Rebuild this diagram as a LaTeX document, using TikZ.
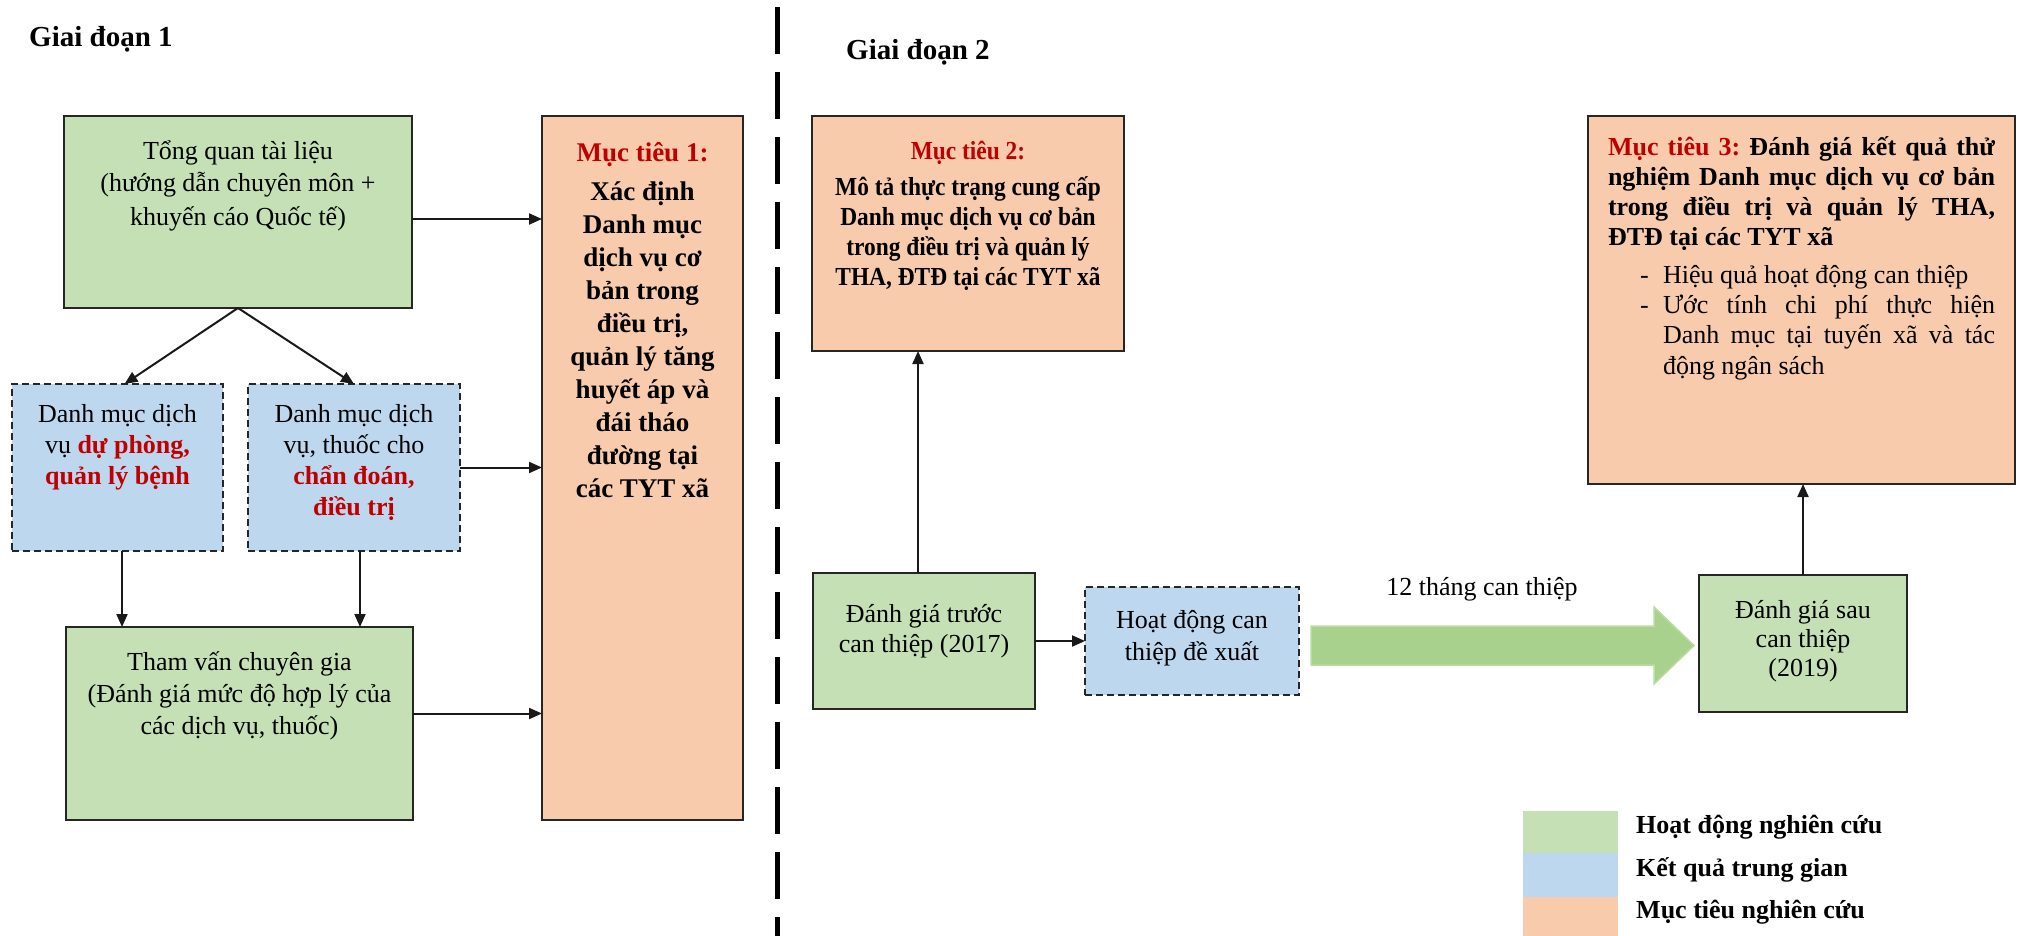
\documentclass[tikz,border=0pt]{standalone}
\usepackage{fontspec}
\setmainfont{Liberation Serif}
\newfontfamily\condserif[FakeStretch=0.9]{Liberation Serif}
\usetikzlibrary{arrows.meta,calc}
\definecolor{cgreen}{HTML}{C5E0B4}
\definecolor{cblue}{HTML}{BDD7EE}
\definecolor{corange}{HTML}{F8CBAD}
\definecolor{cred}{HTML}{C00000}
\definecolor{carrow}{HTML}{A9D18E}
\definecolor{carrowline}{HTML}{B9DDA0}
\newcommand\fz[2]{\fontsize{#1}{#2}\selectfont\lineskiplimit=-1000pt\relax}
\newcommand\topS{\rule{0pt}{30pt}}
\newcommand\redb[1]{{\bfseries\color{cred}#1}}
\begin{document}
\begin{tikzpicture}[x=1pt,y=-1pt,
  basebox/.style={draw=black!85, line width=2pt, inner sep=0pt, outer sep=0pt, anchor=north west},
  gbox/.style={basebox, fill=cgreen},
  bbox/.style={basebox, fill=cblue, dash pattern=on 7pt off 4pt},
  obox/.style={basebox, fill=corange},
  txt/.style={inner sep=0pt, outer sep=0pt, align=center, anchor=north},
  conn/.style={line width=2pt, draw=black!90, -{Triangle[length=13pt,width=11pt]}},
  legtxt/.style={inner sep=0pt, anchor=base west, font=\fz{26}{30}\bfseries},
  phase/.style={inner sep=0pt, anchor=base west, font=\fz{29}{30}\bfseries},
]
\useasboundingbox (0,0) rectangle (2025,936);

% phase divider
\draw[line width=5pt, dash pattern=on 47pt off 18pt] (777,7) -- (777,936);

% titles
\node[phase] (gd1) at (29,47) {Giai đoạn 1};
\node[phase] (gd2) at (846,60) {Giai đoạn 2};

% ---------- Phase 1 ----------
\node[gbox, minimum width=348pt, minimum height=192pt] (tq) at (64,116) {};
\node[txt, font=\fz{26}{33}] (tqt) at (238,129)
  {\topS Tổng quan tài liệu\\(hướng dẫn chuyên môn +\\khuyến cáo Quốc tế)};

\node[bbox, minimum width=211pt, minimum height=167pt] (b1) at (12,384) {};
\node[txt, font=\fz{26}{31}] (b1t) at (117.5,392)
  {\topS Danh mục dịch\\vụ \redb{dự phòng,}\\\redb{quản lý bệnh}};

\node[bbox, minimum width=212pt, minimum height=167pt] (b2) at (248,384) {};
\node[txt, font=\fz{26}{31}] (b2t) at (354,392)
  {\topS Danh mục dịch\\vụ, thuốc cho\\\redb{chẩn đoán,}\\\redb{điều trị}};

\node[gbox, minimum width=347pt, minimum height=193pt] (tv) at (66,627) {};
\node[txt, font=\fz{26}{32}] (tvt) at (239.5,640)
  {\topS Tham vấn chuyên gia\\(Đánh giá mức độ hợp lý của\\các dịch vụ, thuốc)};

\node[obox, minimum width=201pt, minimum height=704pt] (m1) at (542,116) {};
\node[txt, font=\fz{27}{33}\bfseries] (m1t) at (642.5,131)
  {\topS{\color{cred}Mục tiêu 1:}\\[6pt]Xác định\\Danh mục\\dịch vụ cơ\\bản trong\\điều trị,\\quản lý tăng\\huyết áp và\\đái tháo\\đường tại\\các TYT xã};

\draw[conn] (tq.south) -- ([xshift=7pt]b1.north);
\draw[conn] (tq.south) -- (b2.north);
\draw[conn] ([xshift=4.5pt]b1.south) -- ([xshift=4.5pt]b1.south |- tv.north);
\draw[conn] ([xshift=6pt]b2.south) -- ([xshift=6pt]b2.south |- tv.north);
\draw[conn] ([yshift=-7pt]tq.east) -- ([yshift=-7pt]tq.east -| m1.west);
\draw[conn] (b2.east) -- (b2.east -| m1.west);
\draw[conn] ([yshift=10pt]tv.east) -- ([yshift=10pt]tv.east -| m1.west);

% ---------- Phase 2 ----------
\node[obox, minimum width=312pt, minimum height=235pt] (m2) at (812,116) {};
\node[txt, font=\condserif\fz{26}{30}\bfseries] (m2t) at (968,129)
  {\topS{\color{cred}Mục tiêu 2:}\\[6pt]Mô tả thực trạng cung cấp\\Danh mục dịch vụ cơ bản\\trong điều trị và quản lý\\THA, ĐTĐ tại các TYT xã};

\node[obox, minimum width=427pt, minimum height=368pt] (m3) at (1588,116) {};
\node[inner sep=0pt, outer sep=0pt, anchor=north west, text width=387pt, align=justify,
      font=\fz{26}{30}\bfseries] (m3t) at (1608,126)
  {\parindent=0pt\hyphenpenalty=10000\tolerance=9999\frenchspacing\relax
   \topS{\color{cred}Mục tiêu 3:} Đánh giá kết quả thử\linebreak
   nghiệm Danh mục dịch vụ cơ bản\linebreak
   trong điều trị và quản lý THA,\linebreak
   ĐTĐ tại các TYT xã\par
   \vskip 8pt
   \mdseries\leftskip=55pt\relax
   \hspace*{-23pt}\makebox[23pt][l]{-}Hiệu quả hoạt động can thiệp\par
   \hspace*{-23pt}\makebox[23pt][l]{-}Ước tính chi phí thực hiện\linebreak
   Danh mục tại tuyến xã và tác\linebreak
   động ngân sách\par};

\node[gbox, minimum width=222pt, minimum height=136pt] (dt) at (813,573) {};
\node[txt, font=\fz{26}{30}] (dtt) at (924,592)
  {\topS Đánh giá trước\\can thiệp (2017)};

\node[bbox, minimum width=214pt, minimum height=108pt] (hd) at (1085,587) {};
\node[txt, font=\fz{26}{32}] (hdt) at (1192,598)
  {\topS Hoạt động can\\thiệp đề xuất};

\node[gbox, minimum width=208pt, minimum height=137pt] (ds) at (1699,575) {};
\node[txt, font=\fz{26}{29}] (dst) at (1803,588)
  {\topS Đánh giá sau\\can thiệp\\(2019)};

% big interval arrow
\draw[fill=carrow, draw=carrowline, line width=1.5pt]
  (1311,626) -- (1654,626) -- (1654,607) -- (1694,645.5) -- (1654,684)
  -- (1654,665) -- (1311,665) -- cycle;
\node[inner sep=0pt, anchor=base, font=\fz{26}{30}] (lbl) at (1482,595) {12 tháng can thiệp};

\draw[conn] ([xshift=-6pt]dt.north) -- ([xshift=-6pt]dt.north |- m2.south);
\draw[conn] (dt.east) -- (dt.east -| hd.west);
\draw[conn] (ds.north) -- (ds.north |- m3.south);

% ---------- Legend ----------
\fill[cgreen] (1523,811) rectangle (1618,853);
\fill[cblue] (1523,853) rectangle (1618,897);
\fill[corange] (1523,897) rectangle (1618,936);
\node[legtxt] (l1) at (1636,833) {Hoạt động nghiên cứu};
\node[legtxt] (l2) at (1636,876) {Kết quả trung gian};
\node[legtxt] (l3) at (1636,918) {Mục tiêu nghiên cứu};
\end{tikzpicture}
\end{document}
